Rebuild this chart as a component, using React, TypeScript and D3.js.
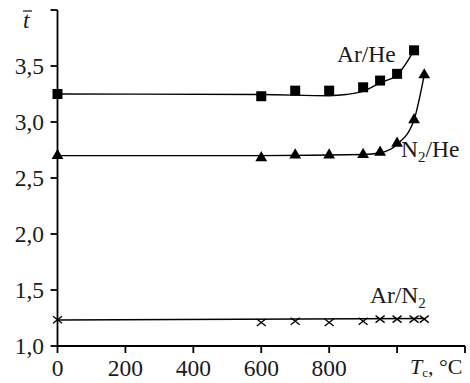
import React from "react";
import * as d3 from "d3";

const W = 470;
const H = 383;

// Ar/He measured points
const arHeT = [0, 600, 700, 800, 900, 950, 1000, 1050];
const arHeV = [3.25, 3.23, 3.28, 3.28, 3.31, 3.37, 3.43, 3.64];
// Ar/He fitted curve
const arHeFitT = [0, 600, 800, 850, 900, 950, 1000, 1050];
const arHeFitV = [3.25, 3.245, 3.235, 3.245, 3.275, 3.35, 3.42, 3.64];

// N2/He measured points
const n2HeT = [0, 600, 700, 800, 900, 950, 1000, 1050, 1080];
const n2HeV = [2.7, 2.68, 2.705, 2.705, 2.71, 2.73, 2.81, 3.02, 3.42];
// N2/He fitted curve
const n2HeFitT = [0, 600, 900, 950, 1000, 1050, 1080];
const n2HeFitV = [2.7, 2.7, 2.71, 2.725, 2.8, 3.02, 3.42];

// Ar/N2 measured points
const arN2T = [0, 600, 700, 800, 900, 950, 1000, 1050, 1080];
const arN2V = [1.235, 1.21, 1.22, 1.21, 1.22, 1.24, 1.24, 1.24, 1.24];
// Ar/N2 fitted line
const arN2FitT = [0, 1080];
const arN2FitV = [1.232, 1.245];

const xTicks = [0, 200, 400, 600, 800, 1000, 1200];
const xTickLabels = ["0", "200", "400", "600", "800", "", ""];
const yTicks = [1.0, 1.5, 2.0, 2.5, 3.0, 3.5, 4.0];
const yTickLabels = ["1,0", "1,5", "2,0", "2,5", "3,0", "3,5", ""];

const FONT = "'Liberation Serif', 'Times New Roman', serif";

export default function App() {
  const x = d3.scaleLinear().domain([0, 1200]).range([57.5, 465]);
  const y = d3.scaleLinear().domain([1, 4]).range([346, 10]);

  const line = d3
    .line<[number, number]>()
    .x((d) => x(d[0]))
    .y((d) => y(d[1]))
    .curve(d3.curveMonotoneX);

  const zip = (a: number[], b: number[]) => a.map((t, i) => [t, b[i]] as [number, number]);

  const arHePts = zip(arHeT, arHeV);
  const n2HePts = zip(n2HeT, n2HeV);
  const arN2Pts = zip(arN2T, arN2V);

  const tri = d3.symbol().type(d3.symbolTriangle).size(60)();

  const fs = 23.5;

  return (
    <svg width={W} height={H} style={{ position: "absolute", left: 0, top: 0, background: "#fff" }}>
      <g fill="none" stroke="#000" strokeWidth={1.4}>
        <path d={line(zip(arHeFitT, arHeFitV)) || ""} />
        <path d={line(zip(n2HeFitT, n2HeFitV)) || ""} />
        <path d={line(zip(arN2FitT, arN2FitV)) || ""} />
      </g>

      {/* axes */}
      <g stroke="#000" strokeWidth={1.8} fill="none">
        <line x1={x(0)} x2={x(0)} y1={y(4)} y2={y(1)} />
        <line x1={x(0)} x2={x(1200)} y1={y(1)} y2={y(1)} />
        {yTicks.map((t) => (
          <line key={"yt" + t} x1={x(0) - 7} x2={x(0)} y1={y(t)} y2={y(t)} />
        ))}
        {xTicks.map((t) => (
          <line key={"xt" + t} x1={x(t)} x2={x(t)} y1={y(1)} y2={y(1) + 7} />
        ))}
      </g>

      <g fontFamily={FONT} fontSize={fs} fill="#1a1a1a">
        {yTicks.map((t, i) => (
          <text key={"yl" + t} x={44} y={y(t)} dy="0.35em" textAnchor="end">
            {yTickLabels[i]}
          </text>
        ))}
        {xTicks.map((t, i) => (
          <text key={"xl" + t} x={x(t)} y={376} textAnchor="middle">
            {xTickLabels[i]}
          </text>
        ))}
        <text x={410} y={374} fontSize={22}>
          <tspan fontStyle="italic">T</tspan>
          <tspan fontSize={13} dy={3}>c</tspan>
          <tspan dy={-3}>, °C</tspan>
        </text>
        <text x={23} y={28} fontStyle="italic">t</text>
        <line x1={23} x2={32} y1={11} y2={11} stroke="#111" strokeWidth={1.2} />

        <text x={337} y={62}>Ar/He</text>
        <text x={401} y={157}>
          N<tspan fontSize={15} dy={5}>2</tspan>
          <tspan dy={-5}>/He</tspan>
        </text>
        <text x={370} y={303}>
          Ar/N<tspan fontSize={15} dy={5}>2</tspan>
        </text>
      </g>

      {/* markers */}
      <g fill="#000">
        {arHePts.map((d, i) => (
          <rect key={"s" + i} x={x(d[0]) - 5} y={y(d[1]) - 5} width={10} height={10} />
        ))}
        {n2HePts.map((d, i) => (
          <path key={"t" + i} d={tri || ""} transform={`translate(${x(d[0])},${y(d[1])})`} />
        ))}
      </g>
      <g stroke="#000" strokeWidth={1.3}>
        {arN2Pts.map((d, i) => (
          <g key={"c" + i} transform={`translate(${x(d[0])},${y(d[1])})`}>
            <line x1={-4.5} x2={4.5} y1={-3.5} y2={3.5} />
            <line x1={-4.5} x2={4.5} y1={3.5} y2={-3.5} />
          </g>
        ))}
      </g>
    </svg>
  );
}
